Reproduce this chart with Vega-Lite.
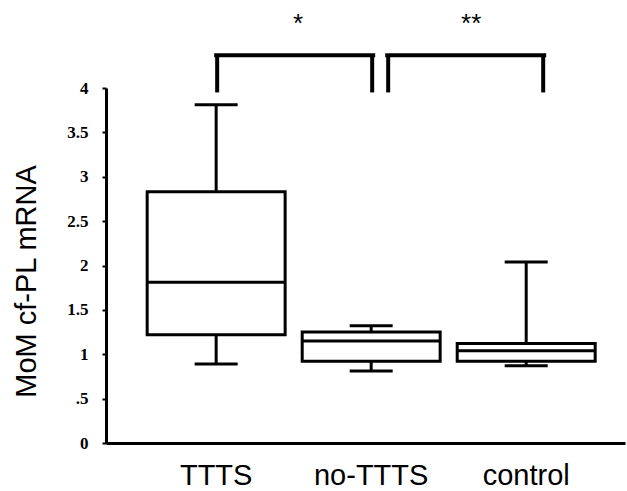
{
  "$schema": "https://vega.github.io/schema/vega-lite/v6.json",
  "autosize": {"type": "none"},
  "width": 519,
  "height": 355,
  "padding": {"left": 106, "top": 88, "right": 2, "bottom": 48},
  "background": "white",
  "config": {"view": {"stroke": null}, "font": "Liberation Sans"},
  "datasets": {
    "boxes": [
      {"group": "TTTS", "lower": 0.89, "q1": 1.22, "median": 1.81, "q3": 2.83, "upper": 3.81},
      {"group": "no-TTTS", "lower": 0.81, "q1": 0.92, "median": 1.15, "q3": 1.25, "upper": 1.32},
      {"group": "control", "lower": 0.87, "q1": 0.92, "median": 1.04, "q3": 1.12, "upper": 2.04}
    ],
    "bracket1": [{"group": "TTTS", "group2": "no-TTTS", "top": 4.37, "bottom": 3.95}],
    "bracket2": [{"group": "no-TTTS", "group2": "control", "top": 4.37, "bottom": 3.95}],
    "legs1": [
      {"group": "TTTS", "top": 4.37, "bottom": 3.95},
      {"group": "no-TTTS", "top": 4.37, "bottom": 3.95}
    ],
    "legs2": [
      {"group": "no-TTTS", "top": 4.37, "bottom": 3.95},
      {"group": "control", "top": 4.37, "bottom": 3.95}
    ],
    "star1": [{"group": "TTTS", "y": 4.63, "label": "*"}],
    "star2": [{"group": "no-TTTS", "y": 4.63, "label": "**"}]
  },
  "encoding": {
    "x": {
      "field": "group",
      "type": "nominal",
      "scale": {
        "domain": ["TTTS", "no-TTTS", "control"],
        "paddingInner": 0.11,
        "paddingOuter": 0.229,
        "align": 0.58
      },
      "axis": {
        "title": null,
        "domain": true,
        "domainColor": "black",
        "domainWidth": 3,
        "ticks": false,
        "labelAngle": 0,
        "labelFontSize": 29,
        "labelColor": "black",
        "labelPadding": 18
      }
    }
  },
  "layer": [
    {
      "data": {"name": "boxes"},
      "mark": {"type": "rule", "color": "black", "strokeWidth": 3},
      "encoding": {
        "y": {
          "field": "q3",
          "type": "quantitative",
          "scale": {"domain": [0, 4], "nice": false},
          "axis": {
            "values": [0, 0.25, 0.5, 0.75, 1, 1.25, 1.5, 1.75, 2, 2.25, 2.5, 2.75, 3, 3.25, 3.5, 3.75, 4],
            "labelExpr": "datum.value % 0.5 != 0 ? '' : (datum.value == 0.5 ? '.5' : '' + datum.value)",
            "grid": false,
            "domainColor": "black",
            "domainWidth": 3,
            "tickColor": "black",
            "tickSize": 4,
            "tickWidth": 2,
            "labelFont": "Liberation Serif",
            "labelFontWeight": "bold",
            "labelFontSize": 17,
            "labelColor": "black",
            "labelPadding": 14,
            "title": "MoM cf-PL mRNA",
            "titleFont": "Liberation Sans",
            "titleFontSize": 29,
            "titleFontWeight": "normal",
            "titleColor": "black",
            "titleX": -65,
            "titleY": 193
          }
        },
        "y2": {"field": "upper"}
      }
    },
    {
      "data": {"name": "boxes"},
      "mark": {"type": "rule", "color": "black", "strokeWidth": 3},
      "encoding": {
        "y": {"field": "lower", "type": "quantitative"},
        "y2": {"field": "q1"}
      }
    },
    {
      "data": {"name": "boxes"},
      "mark": {"type": "bar", "fill": "white", "stroke": "black", "strokeWidth": 3},
      "encoding": {
        "y": {"field": "q1", "type": "quantitative"},
        "y2": {"field": "q3"}
      }
    },
    {
      "data": {"name": "boxes"},
      "mark": {"type": "tick", "color": "black", "size": 138, "thickness": 3, "opacity": 1},
      "encoding": {"y": {"field": "median", "type": "quantitative"}}
    },
    {
      "data": {"name": "boxes"},
      "mark": {"type": "tick", "color": "black", "size": 43, "thickness": 3, "opacity": 1},
      "encoding": {"y": {"field": "upper", "type": "quantitative"}}
    },
    {
      "data": {"name": "boxes"},
      "mark": {"type": "tick", "color": "black", "size": 43, "thickness": 3, "opacity": 1},
      "encoding": {"y": {"field": "lower", "type": "quantitative"}}
    },
    {
      "data": {"name": "bracket1"},
      "mark": {"type": "rule", "color": "black", "strokeWidth": 4, "strokeCap": "square", "xOffset": 0, "x2Offset": 2},
      "encoding": {
        "x2": {"field": "group2"},
        "y": {"field": "top", "type": "quantitative"}
      }
    },
    {
      "data": {"name": "bracket2"},
      "mark": {"type": "rule", "color": "black", "strokeWidth": 4, "strokeCap": "square", "xOffset": 16, "x2Offset": 18},
      "encoding": {
        "x2": {"field": "group2"},
        "y": {"field": "top", "type": "quantitative"}
      }
    },
    {
      "data": {"name": "legs1"},
      "mark": {"type": "rule", "color": "black", "strokeWidth": 4, "xOffset": 1},
      "encoding": {
        "y": {"field": "bottom", "type": "quantitative"},
        "y2": {"field": "top"}
      }
    },
    {
      "data": {"name": "legs2"},
      "mark": {"type": "rule", "color": "black", "strokeWidth": 4, "xOffset": 17},
      "encoding": {
        "y": {"field": "bottom", "type": "quantitative"},
        "y2": {"field": "top"}
      }
    },
    {
      "data": {"name": "star1"},
      "mark": {"type": "text", "color": "black", "fontSize": 26, "dx": 82, "baseline": "alphabetic"},
      "encoding": {
        "y": {"field": "y", "type": "quantitative"},
        "text": {"field": "label"}
      }
    },
    {
      "data": {"name": "star2"},
      "mark": {"type": "text", "color": "black", "fontSize": 26, "dx": 100, "baseline": "alphabetic"},
      "encoding": {
        "y": {"field": "y", "type": "quantitative"},
        "text": {"field": "label"}
      }
    }
  ]
}
